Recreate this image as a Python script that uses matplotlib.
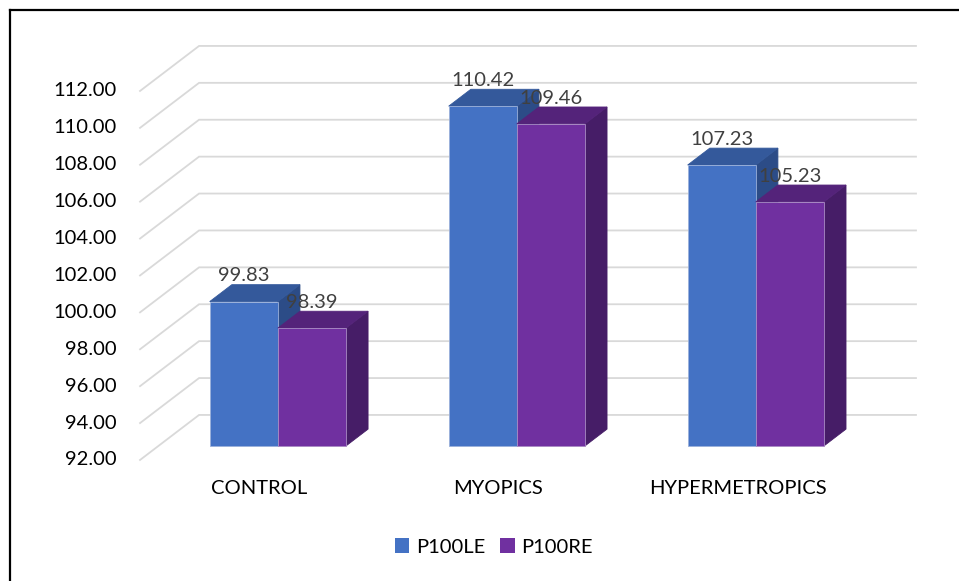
import matplotlib
matplotlib.use("Agg")
import matplotlib.pyplot as plt
from matplotlib.patches import Patch
from matplotlib.lines import Line2D

# ---------------- data ----------------
groups = ["CONTROL", "MYOPICS", "HYPERMETROPICS"]
series = ["P100LE", "P100RE"]
p100le = [99.83, 110.42, 107.23]
p100re = [98.39, 109.46, 105.23]
yticks = [92, 94, 96, 98, 100, 102, 104, 106, 108, 110, 112]

# ---------------- style ----------------
plt.rcParams["font.family"] = ["Lato", "DejaVu Sans"]
front_cols = ["#4472C4", "#7030A0"]
top_cols = ["#34599B", "#54237A"]
side_cols = ["#2C4C87", "#461D67"]
edge_cols = ["#9AB0DA", "#A98BC4"]
grid_col = "#D9D9D9"
fs = 14.5

# oblique projection: depth 1 shifts by (dx, dy) in data units
dx, dy = 0.247, 2.44
ymin = yticks[0]
bar_w = 0.285
d0, d1 = 0.31, 0.685


def proj(x, y, d):
    return x + d * dx, y + d * dy


fig = plt.figure(figsize=(9.59, 5.81), dpi=100)
ax = fig.add_axes([0, 0, 1, 1])
ax.set_xlim(-0.586, 3.427)
ax.set_ylim(85.44, 116.93)
ax.axis("off")

# back wall gridlines + left wall diagonals
for v in yticks:
    x0, y0 = proj(0, v, 0)
    x1, y1 = proj(0, v, 1)
    x2, y2 = proj(len(groups), v, 1)
    ax.plot([x0, x1, x2], [y0, y1, y2], color=grid_col, lw=1.3, zorder=1,
            solid_joinstyle="miter")
    ax.text(x0 - 0.096, v, f"{v:.2f}", ha="right", va="center",
            fontsize=fs, color="black")


def draw_bar(xl, val, j):
    xr = xl + bar_w
    # front face
    fx = [proj(xl, ymin, d0), proj(xr, ymin, d0), proj(xr, val, d0), proj(xl, val, d0)]
    # top face
    tx = [proj(xl, val, d0), proj(xr, val, d0), proj(xr, val, d1), proj(xl, val, d1)]
    # right side face
    sx = [proj(xr, ymin, d0), proj(xr, ymin, d1), proj(xr, val, d1), proj(xr, val, d0)]
    for pts, c in ((sx, side_cols[j]), (tx, top_cols[j]), (fx, front_cols[j])):
        xs, ys = zip(*pts)
        ec = edge_cols[j] if c == front_cols[j] else c
        ax.fill(xs, ys, facecolor=c, edgecolor=ec, lw=0.6, zorder=2)


for i, g in enumerate(groups):
    vals = [p100le[i], p100re[i]]
    for j, val in enumerate(vals):
        xl = i + 0.5 - bar_w + j * bar_w
        draw_bar(xl, val, j)
    for j, val in enumerate(vals):
        xl = i + 0.5 - bar_w + j * bar_w
        cx, _ = proj(xl + bar_w / 2, val, d0)
        _, ty = proj(xl, val, d1)
        ax.annotate(f"{val:.2f}", (cx, ty), xytext=(0, 2.5),
                    textcoords="offset points", ha="center", va="baseline",
                    fontsize=fs, color="#404040", zorder=5)
    ax.text(i + 0.5, 90.48, g, ha="center", va="center", fontsize=fs,
            color="black")

handles = [Patch(facecolor=c, edgecolor="none") for c in front_cols]
fig.legend(handles, series, loc="center", bbox_to_anchor=(494 / 959, 1 - 547 / 581),
           ncol=2, frameon=False, fontsize=fs, handlelength=0.7, handleheight=0.7,
           handletextpad=0.35, columnspacing=0.75)

# chart frame (left and top edges)
fig.add_artist(Line2D([10 / 959, 10 / 959], [0, 1 - 9.5 / 581], color="black", lw=1.6,
                      transform=fig.transFigure))
fig.add_artist(Line2D([10 / 959, 1], [1 - 9.5 / 581, 1 - 9.5 / 581], color="black", lw=1.6,
                      transform=fig.transFigure))

fig.savefig("out.png", dpi=100)
